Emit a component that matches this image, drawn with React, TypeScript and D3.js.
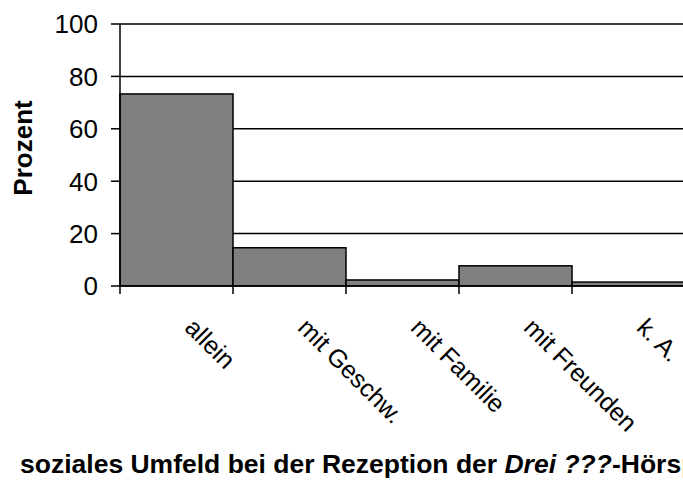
import React from 'react';
import * as d3 from 'd3';

// Soziales Umfeld bei der Rezeption (Prozent)
const categories = ['allein', 'mit Geschw.', 'mit Familie', 'mit Freunden', 'k. A.'];
const values = [73.3, 14.6, 2.3, 7.7, 1.5];
const yTicks = [0, 20, 40, 60, 80, 100];

const W = 683;
const H = 484;
const left = 120;
const top = 24;
const bottom = 286;
const bandW = 113;

export default function App() {
    const x = d3.scaleBand<string>()
        .domain(categories)
        .range([left, left + bandW * categories.length])
        .padding(0);

    const y = d3.scaleLinear().domain([0, 100]).range([bottom, top]);

    const font = 'Arial, "Liberation Sans", sans-serif';

    return (
        <svg width={W} height={H} style={{ display: 'block', position: 'absolute', left: 0, top: 0 }}>
            <rect x={0} y={0} width={W} height={H} fill="#fff" />

            {/* gridlines */}
            {yTicks.filter((t) => t > 0).map((t) => (
                <line key={'g' + t} x1={left} x2={W} y1={y(t)} y2={y(t)} stroke="#000" strokeWidth={1.5} />
            ))}

            {/* bars */}
            {categories.map((c, i) => (
                <rect
                    key={c}
                    x={x(c)}
                    y={y(values[i])}
                    width={x.bandwidth()}
                    height={y(0) - y(values[i])}
                    fill="#808080"
                    stroke="#000"
                    strokeWidth={1.5}
                />
            ))}

            {/* y axis */}
            <line x1={left} x2={left} y1={y(100)} y2={y(0) + 8} stroke="#000" strokeWidth={1.5} />
            {yTicks.map((t) => (
                <g key={'y' + t}>
                    <line x1={left - 9} x2={left} y1={y(t)} y2={y(t)} stroke="#000" strokeWidth={1.5} />
                    <text x={left - 22} y={y(t)} dy="0.36em" textAnchor="end" fontFamily={font} fontSize={26}>
                        {t}
                    </text>
                </g>
            ))}

            {/* x axis */}
            <line x1={left} x2={W} y1={y(0)} y2={y(0)} stroke="#000" strokeWidth={1.5} />
            {categories.map((c) => (
                <line key={'xt' + c} x1={(x(c) as number) + bandW} x2={(x(c) as number) + bandW} y1={y(0)} y2={y(0) + 8} stroke="#000" strokeWidth={1.5} />
            ))}
            {categories.map((c) => {
                const cx = (x(c) as number) + x.bandwidth() / 2 + 7;
                const cy = 329;
                return (
                    <text key={'xl' + c} x={cx} y={cy} transform={`rotate(45, ${cx}, ${cy})`} fontFamily={font} fontSize={25}>
                        {c}
                    </text>
                );
            })}

            {/* axis titles */}
            <text
                transform={`translate(32, 148) rotate(-90)`}
                textAnchor="middle"
                fontFamily={font}
                fontWeight="bold"
                fontSize={26}
            >
                Prozent
            </text>
            <text x={20} y={473} fontFamily={font} fontWeight="bold" fontSize={26.5}>
                soziales Umfeld bei der Rezeption der <tspan fontStyle="italic">Drei ???</tspan>-Hörspiele
            </text>
        </svg>
    );
}
